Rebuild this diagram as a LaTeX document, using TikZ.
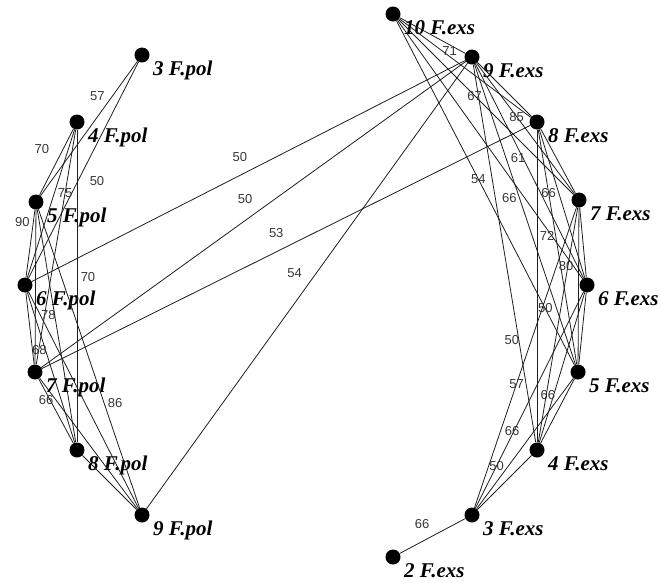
\documentclass[tikz,border=0pt]{standalone}
\usepackage{fontspec}
\setmainfont{Liberation Serif}
\newfontfamily\numfont{Liberation Sans}
\usepackage{tikz}
\usetikzlibrary{positioning}
\definecolor{linkgrey}{RGB}{30,30,30}
\definecolor{numgrey}{RGB}{55,55,55}

\begin{document}
\begin{tikzpicture}[
  x=1pt, y=-1pt,
  pt/.style={circle, fill=black, minimum size=15pt, inner sep=0pt},
  tag/.style={anchor=base west, xshift=11pt, yshift=-20pt, inner sep=0pt, font=\fontsize{21}{21}\selectfont\bfseries\itshape},
  lnk/.style={draw=linkgrey, line width=0.8pt},
  wt/.style={font=\numfont\fontsize{13}{13}\selectfont, text=numgrey, inner sep=1pt}
]
\useasboundingbox (0,0) rectangle (661,582);
\node[pt] (p3) at (142,55) {};
\node[pt] (p4) at (77,122) {};
\node[pt] (p5) at (36,202) {};
\node[pt] (p6) at (25,285) {};
\node[pt] (p7) at (35,372) {};
\node[pt] (p8) at (77,450) {};
\node[pt] (p9) at (142,515) {};
\node[pt] (e10) at (393,14) {};
\node[pt] (e9) at (472,57) {};
\node[pt] (e8) at (537,122) {};
\node[pt] (e7) at (579,200) {};
\node[pt] (e6) at (587,285) {};
\node[pt] (e5) at (578,372) {};
\node[pt] (e4) at (537,450) {};
\node[pt] (e3) at (472,515) {};
\node[pt] (e2) at (393,557) {};
\node[tag] (p3t) at (p3) {3 F.pol};
\node[tag] (p4t) at (p4) {4 F.pol};
\node[tag] (p5t) at (p5) {5 F.pol};
\node[tag] (p6t) at (p6) {6 F.pol};
\node[tag] (p7t) at (p7) {7 F.pol};
\node[tag] (p8t) at (p8) {8 F.pol};
\node[tag] (p9t) at (p9) {9 F.pol};
\node[tag] (e10t) at (e10) {10 F.exs};
\node[tag] (e9t) at (e9) {9 F.exs};
\node[tag] (e8t) at (e8) {8 F.exs};
\node[tag] (e7t) at (e7) {7 F.exs};
\node[tag] (e6t) at (e6) {6 F.exs};
\node[tag] (e5t) at (e5) {5 F.exs};
\node[tag] (e4t) at (e4) {4 F.exs};
\node[tag] (e3t) at (e3) {3 F.exs};
\node[tag] (e2t) at (e2) {2 F.exs};

\draw[lnk] (p3) -- node[wt, pos=.26, xshift=-15pt] {57} (p5);
\draw[lnk] (p3) -- node[wt, pos=.55, xshift=19pt] {50} (p6);
\draw[lnk] (p4) -- node[wt, pos=.31, xshift=-21pt] {70} (p5);
\draw[lnk] (p4) -- node[wt, pos=.27] {75} (p7);
\draw[lnk] (p4) -- node[wt, pos=.47, xshift=11pt] {70} (p8);
\draw[lnk] (p5) -- node[wt, pos=.19, xshift=-11pt] {90} (p6);
\draw[lnk] (p5) -- node[wt, pos=.65, xshift=11pt] {86} (p9);
\draw[lnk] (p6) -- node[wt, pos=.8, xshift=7pt] {68} (p7);
\draw[lnk] (p6) -- node[wt, pos=.15, xshift=14pt] {78} (p8);
\draw[lnk] (p7) -- node[wt, pos=.33, xshift=-4pt] {66} (p8);
\foreach \a/\b in {p4/p6, p5/p7, p5/p8, p6/p9, p7/p9, p8/p9}
  \draw[lnk] (\a) -- (\b);

\draw[lnk] (e9) -- node[wt, pos=.52, yshift=18pt] {50} (p6);
\draw[lnk] (e9) -- node[wt, pos=.52, yshift=22pt] {50} (p7);
\draw[lnk] (e8) -- node[wt, pos=.52, yshift=19pt] {53} (p7);
\draw[lnk] (e9) -- node[wt, pos=.47, xshift=-22pt] {54} (p9);

\draw[lnk] (e10) -- node[wt, pos=.76, yshift=-6pt] {71} (e9);
\draw[lnk] (e10) -- node[wt, pos=.435] {67} (e7);
\draw[lnk] (e10) -- node[wt, pos=.686, xshift=-15pt] {66} (e6);
\draw[lnk] (e10) -- node[wt, pos=.46] {54} (e5);
\draw[lnk] (e9) -- node[wt, pos=.41] {85} (e7);
\draw[lnk] (e9) -- node[wt, pos=.44, xshift=-5pt] {61} (e6);
\draw[lnk] (e9) -- node[wt, pos=.81, xshift=-11pt] {50} (e5);
\draw[lnk] (e9) -- node[wt, pos=.728, xshift=-7pt] {50} (e4);
\draw[lnk] (e8) -- node[wt, pos=.27] {66} (e5);
\draw[lnk] (e8) -- node[wt, pos=.34, xshift=10pt] {72} (e4);
\draw[lnk] (e8) -- node[wt, pos=.92, xshift=-15pt] {80} (e6);
\draw[lnk] (e7) -- node[wt, pos=.587] {57} (e3);
\draw[lnk] (e6) -- node[wt, pos=.68, xshift=-6pt] {66} (e4);
\draw[lnk] (e6) -- node[wt, pos=.804] {50} (e3);
\draw[lnk] (e5) -- node[wt, pos=.406, xshift=-22pt] {66} (e3);
\draw[lnk] (e3) -- node[wt, pos=.66, yshift=18pt] {66} (e2);
\foreach \a/\b in {e10/e8, e9/e8, e8/e7, e7/e6, e7/e5, e7/e4, e6/e5, e5/e4, e4/e3}
  \draw[lnk] (\a) -- (\b);
\end{tikzpicture}
\end{document}
